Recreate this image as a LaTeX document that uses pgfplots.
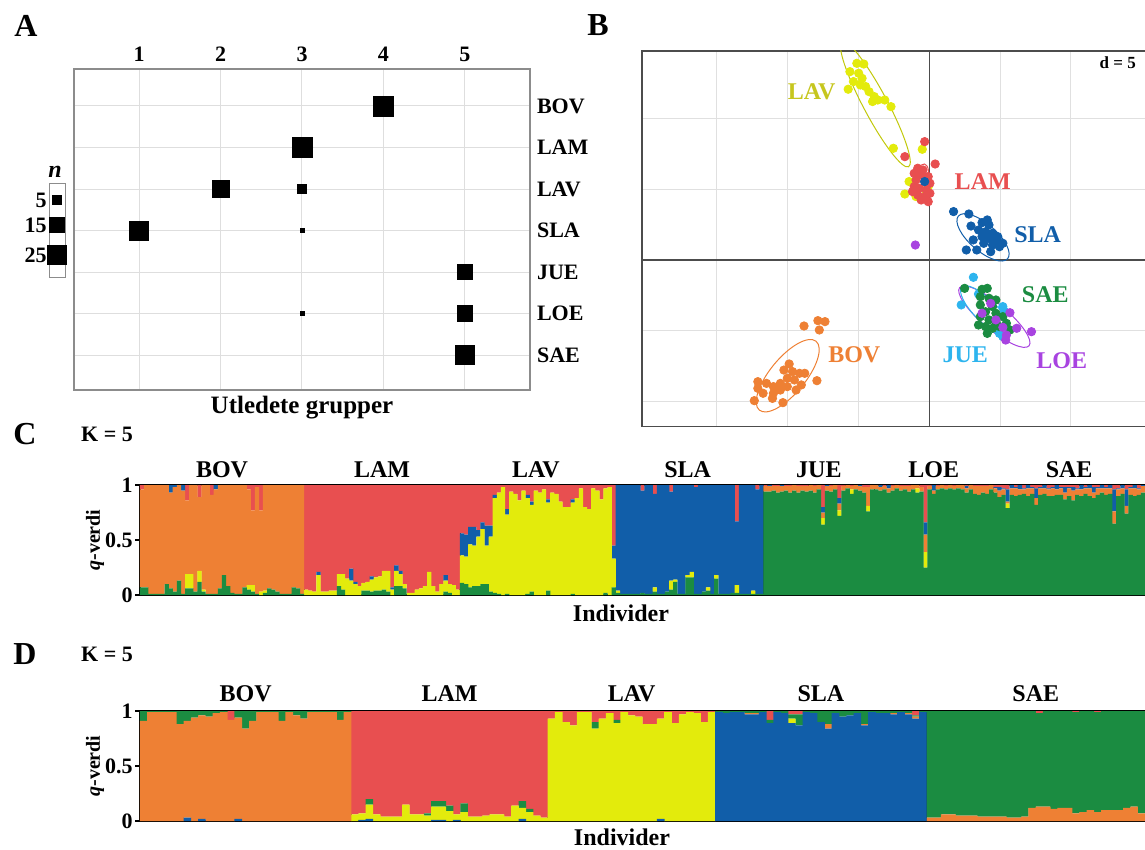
\documentclass[border=0pt]{standalone}
\usepackage{pgfplots}
\usepackage{pgfplotstable}
\pgfplotsset{compat=1.18}
\usepackage{fontspec}
\setmainfont{Liberation Serif}
\definecolor{cO}{HTML}{EE8034}
\definecolor{cR}{HTML}{E84F50}
\definecolor{cY}{HTML}{E3EB0C}
\definecolor{cB}{HTML}{115EA9}
\definecolor{cG}{HTML}{1B8C41}
\definecolor{cJ}{HTML}{2DB4EE}
\definecolor{cP}{HTML}{A843E0}
\definecolor{cLAV}{HTML}{C6C61E}
\newcommand\fs[1]{\fontsize{#1}{#1}\selectfont\bfseries}

\pgfplotstableread{
x G Y O B R
0 0.07 0 0.89 0 0.04
1 0.07 0 0.93 0 0
2 0.01 0 0.99 0 0
3 0.01 0 0.99 0 0
4 0.01 0 0.99 0 0
5 0.01 0 0.99 0 0
6 0.10 0 0.90 0 0
7 0.06 0 0.87 0.07 0
8 0.03 0 0.95 0.02 0
9 0.13 0 0.87 0 0
10 0.01 0 0.94 0.05 0
11 0.06 0.13 0.67 0 0.14
12 0.06 0.13 0.81 0 0
13 0.03 0 0.97 0 0
14 0.12 0.10 0.67 0 0.11
15 0.03 0.02 0.95 0 0
16 0.01 0 0.99 0 0
17 0.01 0 0.90 0 0.09
18 0.01 0 0.95 0.04 0
19 0.06 0 0.94 0 0
20 0.18 0 0.82 0 0
21 0.08 0 0.92 0 0
22 0.02 0 0.98 0 0
23 0.01 0 0.99 0 0
24 0.01 0 0.99 0 0
25 0.07 0 0.93 0 0
26 0.05 0.04 0.87 0 0.04
27 0.03 0.06 0.68 0 0.23
28 0.01 0 0.97 0 0.02
29 0 0.03 0.74 0 0.23
30 0.02 0.02 0.96 0 0
31 0.06 0 0.94 0 0
32 0.05 0 0.95 0 0
33 0.03 0 0.97 0 0
34 0.01 0 0.99 0 0
35 0.01 0 0.99 0 0
36 0.01 0 0.99 0 0
37 0.07 0 0.93 0 0
38 0.06 0 0.94 0 0
39 0.01 0 0.99 0 0
40 0 0.05 0 0 0.95
41 0 0.04 0 0 0.96
42 0 0.03 0 0 0.97
43 0 0.18 0 0.03 0.79
44 0 0.03 0 0 0.97
45 0 0.03 0 0 0.97
46 0 0.04 0 0 0.96
47 0 0.04 0 0 0.96
48 0.08 0.11 0 0 0.81
49 0.05 0.14 0 0 0.81
50 0 0.15 0 0 0.85
51 0 0.13 0 0.11 0.76
52 0 0.10 0 0.02 0.88
53 0 0.08 0 0 0.92
54 0.04 0.07 0 0 0.89
55 0.04 0.08 0 0 0.88
56 0.03 0.11 0 0.03 0.83
57 0.04 0.12 0 0 0.84
58 0.04 0.13 0 0 0.83
59 0.05 0.17 0 0 0.78
60 0.03 0.19 0 0 0.78
61 0 0.05 0 0.02 0.93
62 0.08 0.14 0 0.05 0.73
63 0.08 0.11 0 0.03 0.78
64 0.06 0.04 0 0 0.90
65 0 0.02 0 0 0.98
66 0 0.02 0 0 0.98
67 0 0.05 0 0 0.95
68 0 0.06 0 0 0.94
69 0 0.08 0 0 0.92
70 0 0.21 0 0 0.79
71 0 0.08 0 0 0.92
72 0 0.03 0 0 0.97
73 0 0.10 0 0 0.90
74 0.03 0.10 0 0.05 0.82
75 0.02 0.08 0 0 0.90
76 0 0.09 0 0 0.91
77 0 0.05 0 0 0.95
78 0.11 0.25 0 0.20 0.44
79 0.10 0.25 0 0.20 0.45
80 0.07 0.39 0 0.16 0.38
81 0.08 0.37 0 0.17 0.38
82 0.08 0.45 0 0.06 0.41
83 0.10 0.50 0 0.06 0.34
84 0.10 0.35 0 0.18 0.37
85 0.03 0.50 0 0.10 0.37
86 0.02 0.86 0 0.03 0.09
87 0.01 0.92 0 0 0.07
88 0 0.98 0 0 0.02
89 0.01 0.72 0 0.05 0.22
90 0 0.94 0 0 0.06
91 0 0.92 0 0 0.08
92 0 0.86 0 0 0.14
93 0 0.95 0 0 0.05
94 0.01 0.87 0 0.03 0.09
95 0.03 0.79 0 0.03 0.15
96 0 0.95 0 0 0.05
97 0 0.93 0 0 0.07
98 0 0.96 0 0 0.04
99 0.04 0.80 0 0.03 0.13
100 0 0.93 0 0 0.07
101 0 0.92 0 0 0.08
102 0 0.85 0 0 0.15
103 0 0.80 0 0 0.20
104 0 0.80 0 0 0.20
105 0.01 0.83 0 0.03 0.13
106 0 0.88 0 0 0.12
107 0 0.97 0 0 0.03
108 0 0.80 0 0 0.20
109 0 0.78 0 0 0.22
110 0 0.97 0 0 0.03
111 0 0.95 0 0 0.05
112 0 0.87 0 0 0.13
113 0.02 0.95 0 0 0.03
114 0 0.98 0 0 0.02
115 0.07 0.26 0 0.12 0.55
116 0.02 0.02 0 0.96 0
117 0.01 0 0 0.99 0
118 0.01 0 0 0.99 0
119 0.01 0 0 0.99 0
120 0.01 0 0 0.99 0
121 0.01 0 0 0.99 0
122 0.02 0 0 0.93 0.05
123 0.01 0 0 0.99 0
124 0.01 0 0 0.99 0
125 0.03 0.04 0 0.85 0.08
126 0.01 0 0 0.99 0
127 0.01 0 0 0.99 0
128 0.03 0 0 0.97 0
129 0.05 0.08 0 0.81 0.06
130 0.12 0.02 0 0.86 0
131 0.01 0 0 0.99 0
132 0.01 0 0 0.99 0
133 0.16 0.02 0 0.82 0
134 0.16 0.05 0 0.79 0
135 0.01 0 0 0.97 0.02
136 0.01 0 0 0.99 0
137 0.03 0 0 0.97 0
138 0.04 0.03 0 0.93 0
139 0.01 0 0 0.99 0
140 0.15 0.03 0 0.82 0
141 0.01 0 0 0.99 0
142 0.01 0 0 0.99 0
143 0.01 0 0 0.99 0
144 0.02 0 0 0.98 0
145 0.02 0.07 0 0.58 0.33
146 0.01 0 0 0.99 0
147 0.01 0 0 0.99 0
148 0.01 0 0 0.99 0
149 0.01 0.03 0 0.96 0
150 0.01 0 0 0.95 0.04
151 0.01 0 0 0.99 0
152 0.94 0 0.05 0 0.01
153 0.94 0 0.05 0.01 0
154 0.95 0 0.04 0 0.01
155 0.93 0 0.06 0 0.01
156 0.94 0 0.05 0.01 0
157 0.95 0 0.04 0 0.01
158 0.93 0 0.06 0 0.01
159 0.95 0 0.05 0 0
160 0.93 0 0.06 0 0.01
161 0.95 0 0.04 0 0.01
162 0.94 0 0.05 0 0.01
163 0.95 0 0.05 0 0
164 0.93 0 0.06 0 0.01
165 0.96 0 0.04 0 0
166 0.64 0.06 0.05 0.05 0.20
167 0.95 0 0.04 0.01 0
168 0.94 0 0.05 0 0.01
169 0.96 0 0.04 0 0
170 0.72 0.05 0.06 0.05 0.12
171 0.95 0 0.04 0 0.01
172 0.97 0 0.03 0 0
173 0.92 0.04 0.03 0 0.01
174 0.96 0 0.04 0 0
175 0.95 0 0.04 0.01 0
176 0.93 0 0.05 0 0.02
177 0.76 0.05 0.17 0 0.02
178 0.96 0 0.04 0 0
179 0.96 0 0.04 0 0
180 0.95 0 0.03 0.02 0
181 0.96 0 0.03 0 0.01
182 0.93 0 0.04 0.03 0
183 0.95 0 0.04 0 0.01
184 0.97 0 0.03 0 0
185 0.95 0 0.04 0 0.01
186 0.96 0 0.03 0 0.01
187 0.94 0 0.05 0 0.01
188 0.96 0 0.04 0 0
189 0.93 0.04 0.03 0 0
190 0.94 0 0.04 0 0.02
191 0.25 0.14 0.16 0.11 0.34
192 0.96 0 0.03 0 0.01
193 0.92 0 0.03 0.05 0
194 0.96 0 0.03 0 0.01
195 0.97 0 0.03 0 0
196 0.96 0 0.03 0 0.01
197 0.97 0 0.03 0 0
198 0.96 0 0.03 0 0.01
199 0.97 0 0.03 0 0
200 0.96 0 0.04 0 0
201 0.93 0 0.04 0.02 0.01
202 0.96 0 0.04 0 0
203 0.92 0 0.07 0 0.01
204 0.91 0 0.08 0 0.01
205 0.93 0 0.06 0 0.01
206 0.92 0 0.07 0 0.01
207 0.96 0 0.04 0 0
208 0.93 0 0.04 0.01 0.02
209 0.89 0 0.06 0.03 0.02
210 0.91 0 0.05 0.01 0.03
211 0.79 0.04 0.02 0.11 0.04
212 0.91 0 0.06 0.03 0
213 0.90 0 0.07 0.01 0.02
214 0.91 0 0.05 0.04 0
215 0.92 0 0.04 0.01 0.03
216 0.90 0 0.07 0.03 0
217 0.92 0 0.05 0.01 0.02
218 0.82 0 0.06 0.09 0.03
219 0.91 0 0.06 0.01 0.02
220 0.92 0 0.05 0.03 0
221 0.90 0 0.06 0.01 0.03
222 0.90 0 0.07 0.01 0.02
223 0.91 0 0.05 0.04 0
224 0.91 0 0.06 0.01 0.02
225 0.87 0 0.06 0.05 0.02
226 0.90 0 0.07 0.01 0.02
227 0.86 0 0.09 0.03 0.02
228 0.91 0 0.05 0.01 0.03
229 0.90 0 0.06 0.04 0
230 0.92 0 0.05 0.01 0.02
231 0.90 0 0.07 0.03 0
232 0.88 0 0.05 0.05 0.02
233 0.91 0 0.06 0.01 0.02
234 0.93 0 0.04 0.03 0
235 0.91 0 0.06 0.01 0.02
236 0.92 0 0.05 0.03 0
237 0.65 0 0.11 0.20 0.04
238 0.90 0 0.06 0.01 0.03
239 0.92 0 0.05 0.03 0
240 0.74 0 0.07 0.15 0.04
241 0.91 0 0.06 0.01 0.02
242 0.90 0 0.07 0.03 0
243 0.91 0 0.05 0.01 0.03
244 0.93 0 0.06 0.01 0
}\tabC

\pgfplotstableread{
x B O Y G R
0 0 0.91 0 0.09 0
1 0 0.99 0 0.01 0
2 0 0.99 0 0.01 0
3 0 0.99 0 0.01 0
4 0 0.99 0 0.01 0
5 0 0.88 0 0.12 0
6 0.03 0.88 0 0.09 0
7 0 0.94 0 0.06 0
8 0.02 0.94 0 0.04 0
9 0 0.95 0 0.05 0
10 0 0.98 0 0.02 0
11 0 0.99 0 0.01 0
12 0 0.92 0 0 0.08
13 0.02 0.92 0 0.06 0
14 0 0.84 0 0.16 0
15 0 0.91 0 0.09 0
16 0 0.99 0 0.01 0
17 0 0.99 0 0.01 0
18 0 0.99 0 0.01 0
19 0 0.91 0 0.09 0
20 0 0.99 0 0.01 0
21 0 0.96 0 0.04 0
22 0 0.93 0 0.07 0
23 0 0.99 0 0.01 0
24 0 0.99 0 0.01 0
25 0 0.99 0 0.01 0
26 0 0.99 0 0.01 0
27 0 0.92 0 0.08 0
28 0 0.99 0 0.01 0
29 0 0 0.06 0 0.94
30 0.01 0 0.06 0 0.93
31 0.02 0 0.13 0.05 0.80
32 0 0 0.06 0 0.94
33 0 0 0.04 0 0.96
34 0 0 0.04 0 0.96
35 0 0 0.04 0 0.96
36 0 0 0.15 0 0.85
37 0 0 0.06 0 0.94
38 0 0 0.06 0 0.94
39 0 0 0.05 0.02 0.93
40 0.01 0 0.12 0.05 0.82
41 0.01 0 0.12 0.05 0.82
42 0 0 0.09 0.05 0.86
43 0.01 0 0.05 0 0.94
44 0 0 0.08 0.08 0.84
45 0 0 0.04 0 0.96
46 0 0 0.04 0 0.96
47 0 0 0.05 0 0.95
48 0 0 0.06 0 0.94
49 0 0 0.06 0 0.94
50 0 0 0.04 0 0.96
51 0 0 0.14 0 0.86
52 0.02 0 0.10 0.06 0.82
53 0 0 0.08 0.03 0.89
54 0 0 0.05 0 0.95
55 0 0 0.03 0 0.97
56 0 0 0.93 0 0.07
57 0 0 0.99 0 0.01
58 0 0 0.90 0 0.10
59 0 0 0.87 0 0.13
60 0 0 0.99 0 0.01
61 0 0 0.99 0 0.01
62 0 0 0.84 0.06 0.10
63 0 0 0.93 0 0.07
64 0 0 0.98 0 0.02
65 0 0 0.89 0.03 0.08
66 0 0 0.99 0 0.01
67 0 0 0.96 0 0.04
68 0 0 0.95 0 0.05
69 0 0 0.88 0 0.12
70 0 0 0.88 0 0.12
71 0.02 0 0.91 0 0.07
72 0 0 0.99 0 0.01
73 0 0 0.89 0 0.11
74 0 0 0.97 0 0.03
75 0 0 0.99 0 0.01
76 0 0 0.98 0 0.02
77 0 0 0.90 0 0.10
78 0 0 0.99 0 0.01
79 0.99 0 0 0.01 0
80 0.98 0 0 0.02 0
81 0.99 0 0 0.01 0
82 0.99 0 0 0.01 0
83 0.97 0.01 0 0.02 0
84 0.97 0.01 0 0.02 0
85 0.99 0 0 0.01 0
86 0.89 0 0 0.03 0.08
87 0.99 0 0 0.01 0
88 0.98 0 0 0.02 0
89 0.89 0 0.04 0.04 0.03
90 0.87 0 0 0.10 0.03
91 0.99 0 0 0.01 0
92 0.98 0 0 0.02 0
93 0.90 0 0 0.10 0
94 0.84 0.04 0 0.12 0
95 0.98 0 0 0.02 0
96 0.95 0 0 0.05 0
97 0.96 0 0 0.04 0
98 0.98 0 0 0.02 0
99 0.87 0.01 0 0.12 0
100 0.99 0 0 0.01 0
101 0.98 0 0 0.02 0
102 0.98 0 0 0.02 0
103 0.97 0.01 0 0.02 0
104 0.99 0 0 0.01 0
105 0.97 0.01 0 0.02 0
106 0.93 0.02 0 0.01 0.04
107 0.99 0 0 0.01 0
108 0 0.03 0 0.97 0
109 0 0.03 0 0.97 0
110 0 0.06 0 0.94 0
111 0 0.06 0 0.94 0
112 0 0.05 0 0.95 0
113 0 0.05 0 0.95 0
114 0 0.05 0 0.95 0
115 0 0.04 0 0.96 0
116 0 0.04 0 0.96 0
117 0 0.04 0 0.96 0
118 0 0.04 0 0.96 0
119 0 0.03 0 0.97 0
120 0 0.03 0 0.97 0
121 0 0.04 0 0.96 0
122 0 0.12 0 0.88 0
123 0 0.13 0 0.85 0.02
124 0 0.13 0 0.87 0
125 0 0.11 0 0.89 0
126 0 0.12 0 0.88 0
127 0 0.12 0 0.88 0
128 0 0.07 0 0.92 0.01
129 0 0.08 0 0.92 0
130 0 0.10 0 0.90 0
131 0 0.08 0 0.91 0.01
132 0 0.10 0 0.90 0
133 0 0.10 0 0.90 0
134 0 0.10 0 0.90 0
135 0 0.12 0 0.88 0
136 0 0.13 0 0.87 0
137 0 0.07 0 0.93 0
}\tabD

\begin{document}
\begin{tikzpicture}
\useasboundingbox (0pt,0pt) rectangle (572.5pt,-425pt);
\node[font=\fs{16}] at (13pt,-13pt) {A};
\node[font=\fs{16}] at (299pt,-12.5pt) {B};
\node[font=\fs{16}] at (12.5pt,-217pt) {C};
\node[font=\fs{11}] at (53.5pt,-217pt) {K = 5};
\node[font=\fs{16}] at (12.5pt,-327pt) {D};
\node[font=\fs{11}] at (53.5pt,-327pt) {K = 5};
\node[font=\fs{12}] at (310.5pt,-306.5pt) {Individer};
\node[font=\fs{12}] at (311pt,-418.5pt) {Individer};
\node[font=\fs{12.5}] at (151pt,-204pt) {Utledete grupper};
\node[font=\fontsize{12}{12}\selectfont\bfseries\itshape] at (27.5pt,-86pt) {n};

% ---------- Panel A ----------
\begin{axis}[
  at={(37pt,-34.5pt)}, anchor=north west, scale only axis,
  width=228pt, height=160.5pt,
  xmin=0.2, xmax=5.8, ymin=0.11, ymax=7.84, y dir=reverse,
  xtick={1,2,3,4,5}, xticklabels={1,2,3,4,5},
  ytick={1,2,3,4,5,6,7}, yticklabels={BOV,LAM,LAV,SLA,JUE,LOE,SAE},
  xticklabel pos=upper, yticklabel pos=right,
  tick style={draw=none},
  grid=major, grid style={black!13, line width=0.5pt},
  axis line style={black!45, line width=0.6pt},
  xticklabel style={font=\fs{11}},
  yticklabel style={font=\fs{11}},
]
\addplot[scatter, only marks, mark=square*,
  scatter/use mapped color={draw=black,fill=black},
  visualization depends on={0.975*sqrt(\thisrow{n}) \as \msz},
  scatter/@pre marker code/.append style={/tikz/mark size=\msz}]
  table[x=x, y=y, meta=n] {
x y n
4 1 26
3 2 26
2 3 19
3 3 5
1 4 24
3 4 1
5 5 16
3 6 1
5 6 16
5 7 24
};
\end{axis}

% ---------- n legend ----------
\begin{axis}[
  at={(24.5pt,-92pt)}, anchor=north west, scale only axis,
  width=8pt, height=46.5pt,
  xmin=0, xmax=1, ymin=0, ymax=93, y dir=reverse,
  xtick=\empty, ytick={16,41,71}, yticklabels={5,15,25},
  tick style={draw=none}, axis line style={black!45, line width=0.5pt},
  yticklabel style={font=\fs{11}, inner sep=1pt}, clip=false,
]
\addplot[scatter, only marks, mark=square*,
  scatter/use mapped color={draw=black,fill=black},
  visualization depends on={0.975*sqrt(\thisrow{n}) \as \msz},
  scatter/@pre marker code/.append style={/tikz/mark size=\msz}]
  table[x=x, y=y, meta=n] {
x y n
0.5 16 5
0.5 41 15
0.5 71 25
};
\end{axis}

% ---------- Panel B ----------
\begin{axis}[
  at={(321pt,-25.5pt)}, anchor=north west, scale only axis,
  width=252.5pt, height=187.85pt,
  xmin=-20.28, xmax=15.38, ymin=-11.77, ymax=14.76,
  xtick={-15,-10,-5,5,10}, ytick={-10,-5,5,10},
  xticklabels={,,,,}, yticklabels={,,,}, tick style={draw=none},
  grid=major, grid style={black!12, line width=0.5pt},
  axis line style={black!70, line width=0.7pt},
]
\draw[black!70, line width=0.6pt] (axis cs:0,-13) -- (axis cs:0,16);
\draw[black!70, line width=0.6pt] (axis cs:-21,0) -- (axis cs:16,0);
% ellipses
\draw[cY!85!black, line width=0.5pt, rotate around={-62:(axis cs:-3.8,11)}] (axis cs:-3.8,11) ellipse [x radius=5.0, y radius=0.85];
\draw[cR, line width=0.5pt, rotate around={80:(axis cs:-0.56,5.5)}] (axis cs:-0.56,5.5) ellipse [x radius=1.3, y radius=0.5];
\draw[cB, line width=0.5pt, rotate around={-41:(axis cs:3.8,1.6)}] (axis cs:3.8,1.6) ellipse [x radius=2.3, y radius=0.95];
\draw[cP, line width=0.5pt, rotate around={-40:(axis cs:4.6,-4.0)}] (axis cs:4.6,-4.0) ellipse [x radius=3.2, y radius=0.9];
\draw[cJ, line width=0.5pt, rotate around={-45:(axis cs:4.0,-3.6)}] (axis cs:4.0,-3.6) ellipse [x radius=2.4, y radius=0.8];
\draw[cO, line width=0.5pt, rotate around={50.5:(axis cs:-9.99,-8.17)}] (axis cs:-9.99,-8.17) ellipse [x radius=3.15, y radius=1.25];
% points
\addplot[only marks, mark=*, mark size=2.1pt, color=cO] table {
-8.84 -4.66
-7.86 -4.28
-7.36 -4.35
-7.76 -4.94
-7.93 -8.52
-9.89 -7.34
-10.26 -7.77
-9.65 -7.88
-9.16 -8.00
-8.79 -8.00
-10.02 -8.35
-9.52 -8.47
-10.51 -8.71
-11.00 -8.94
-11.49 -8.71
-12.10 -8.59
-12.10 -9.06
-11.73 -9.41
-11.00 -9.41
-10.51 -9.18
-9.40 -9.18
-12.35 -9.93
-11.07 -9.77
-10.33 -10.07
-10.02 -8.94
-9.03 -8.82
};
\addplot[only marks, mark=*, mark size=2.1pt, color=cY] table {
-5.11 13.89
-4.62 13.84
-5.60 13.30
-4.98 13.19
-5.72 12.06
-4.86 12.36
-4.49 12.25
-4.25 11.89
-3.88 11.54
-4.00 11.19
-3.14 11.30
-2.70 10.83
-3.63 11.30
-4.74 12.83
-5.35 12.60
-2.53 7.89
-0.49 7.82
-1.42 5.54
-1.72 4.66
-0.93 4.48
-0.07 5.18
-0.20 4.83
};
\addplot[only marks, mark=*, mark size=2.1pt, color=cR] table {
-0.32 8.36
-1.72 7.30
0.42 6.78
-0.81 6.48
-0.44 6.36
-1.06 6.12
-0.57 6.01
-0.07 5.89
-0.93 5.65
-0.32 5.54
0.05 5.42
-1.06 5.18
-0.69 5.06
-0.20 4.95
-0.81 4.59
-0.32 4.48
-0.07 4.12
-0.57 4.24
-1.18 4.83
0.05 4.71
};
\addplot[only marks, mark=*, mark size=2.1pt, color=cB] table {
-0.32 5.54
1.72 3.42
2.80 3.25
2.95 2.40
3.73 2.64
4.22 2.48
3.48 2.12
3.98 2.00
4.47 1.89
3.73 1.65
4.22 1.53
4.71 1.42
5.20 1.18
4.96 0.94
4.47 1.06
3.85 1.18
3.36 0.71
2.62 0.71
4.34 0.59
3.11 1.42
4.10 2.83
4.84 1.65
};
\addplot[only marks, mark=*, mark size=2.1pt, color=cJ] table {
3.12 -1.22
2.26 -3.17
3.48 -2.40
5.20 -3.29
5.33 -3.65
4.96 -5.18
5.20 -5.41
};
\addplot[only marks, mark=*, mark size=2.1pt, color=cG] table {
2.50 -2.00
3.73 -2.07
4.10 -2.00
3.61 -2.59
4.22 -2.70
4.71 -2.82
3.61 -3.17
4.47 -3.29
3.98 -3.65
4.71 -3.76
5.20 -4.00
3.61 -4.00
4.22 -4.23
4.71 -4.35
3.48 -4.59
3.98 -4.70
4.47 -4.82
5.45 -4.47
4.96 -4.70
4.10 -5.18
5.70 -4.94
};
\addplot[only marks, mark=*, mark size=2.1pt, color=cP] table {
-0.98 1.06
4.34 -3.06
5.70 -3.72
6.18 -4.82
7.22 -5.06
5.40 -5.65
5.20 -4.75
3.73 -3.76
4.71 -4.23
5.45 -5.30
};
\node[text=cLAV, font=\fs{12}] at (axis cs:-8.3,11.9) {LAV};
\node[text=cR, font=\fs{12}] at (axis cs:3.78,5.53) {LAM};
\node[text=cB, font=\fs{12}] at (axis cs:7.66,1.77) {SLA};
\node[text=cG, font=\fs{12}] at (axis cs:8.2,-2.47) {SAE};
\node[text=cJ, font=\fs{12}] at (axis cs:2.55,-6.71) {JUE};
\node[text=cP, font=\fs{12}] at (axis cs:9.36,-7.11) {LOE};
\node[text=cO, font=\fs{12}] at (axis cs:-5.29,-6.71) {BOV};
\node[text=black, font=\fs{8.5}] at (axis cs:13.31,13.93) {d = 5};
\end{axis}

% ---------- Panel C ----------
\begin{axis}[
  at={(70pt,-242.5pt)}, anchor=north west, scale only axis,
  width=503.5pt, height=55pt,
  xmin=-0.5, xmax=244.99, ymin=0, ymax=1,
  ybar stacked, bar width=1.05,
  xtick=\empty, ytick={0,0.5,1}, yticklabels={0,0.5,1},
  tick align=outside, major tick length=2.5pt,
  ytick style={black, line width=0.8pt},
  axis line style={black, line width=1.3pt},
  ylabel={\textit{q}-verdi},
  yticklabel style={font=\fs{11}, inner sep=1pt},
  ylabel style={font=\fs{10}, yshift=-4pt},
  clip=false,
]
\addplot[fill=cG, draw=none] table[x=x, y=G] {\tabC};
\addplot[fill=cY, draw=none] table[x=x, y=Y] {\tabC};
\addplot[fill=cO, draw=none] table[x=x, y=O] {\tabC};
\addplot[fill=cB, draw=none] table[x=x, y=B] {\tabC};
\addplot[fill=cR, draw=none] table[x=x, y=R] {\tabC};
\pgfplotsinvokeforeach{39.5,77.5,114.5,151.5,178.5,207.5}{
  \draw[black, line width=0.6pt] (axis cs:#1,0) -- (axis cs:#1,1);
}
\node[anchor=base, font=\fs{12}] at ([yshift=4pt]axis cs:19.5,1) {BOV};
\node[anchor=base, font=\fs{12}] at ([yshift=4pt]axis cs:58.5,1) {LAM};
\node[anchor=base, font=\fs{12}] at ([yshift=4pt]axis cs:96,1) {LAV};
\node[anchor=base, font=\fs{12}] at ([yshift=4pt]axis cs:133,1) {SLA};
\node[anchor=base, font=\fs{12}] at ([yshift=4pt]axis cs:165,1) {JUE};
\node[anchor=base, font=\fs{12}] at ([yshift=4pt]axis cs:193,1) {LOE};
\node[anchor=base, font=\fs{12}] at ([yshift=4pt]axis cs:226,1) {SAE};
\end{axis}

% ---------- Panel D ----------
\begin{axis}[
  at={(70pt,-355.5pt)}, anchor=north west, scale only axis,
  width=503.5pt, height=55pt,
  xmin=-0.5, xmax=137.77, ymin=0, ymax=1,
  ybar stacked, bar width=1.05,
  xtick=\empty, ytick={0,0.5,1}, yticklabels={0,0.5,1},
  tick align=outside, major tick length=2.5pt,
  ytick style={black, line width=0.8pt},
  axis line style={black, line width=1.3pt},
  ylabel={\textit{q}-verdi},
  yticklabel style={font=\fs{11}, inner sep=1pt},
  ylabel style={font=\fs{10}, yshift=-4pt},
  clip=false,
]
\addplot[fill=cB, draw=none] table[x=x, y=B] {\tabD};
\addplot[fill=cO, draw=none] table[x=x, y=O] {\tabD};
\addplot[fill=cY, draw=none] table[x=x, y=Y] {\tabD};
\addplot[fill=cG, draw=none] table[x=x, y=G] {\tabD};
\addplot[fill=cR, draw=none] table[x=x, y=R] {\tabD};
\pgfplotsinvokeforeach{28.5,55.5,78.5,107.5}{
  \draw[black, line width=0.6pt] (axis cs:#1,0) -- (axis cs:#1,1);
}
\node[anchor=base, font=\fs{12}] at ([yshift=5pt]axis cs:14,1) {BOV};
\node[anchor=base, font=\fs{12}] at ([yshift=5pt]axis cs:42,1) {LAM};
\node[anchor=base, font=\fs{12}] at ([yshift=5pt]axis cs:67,1) {LAV};
\node[anchor=base, font=\fs{12}] at ([yshift=5pt]axis cs:93,1) {SLA};
\node[anchor=base, font=\fs{12}] at ([yshift=5pt]axis cs:122.5,1) {SAE};
\end{axis}
\end{tikzpicture}
\end{document}
